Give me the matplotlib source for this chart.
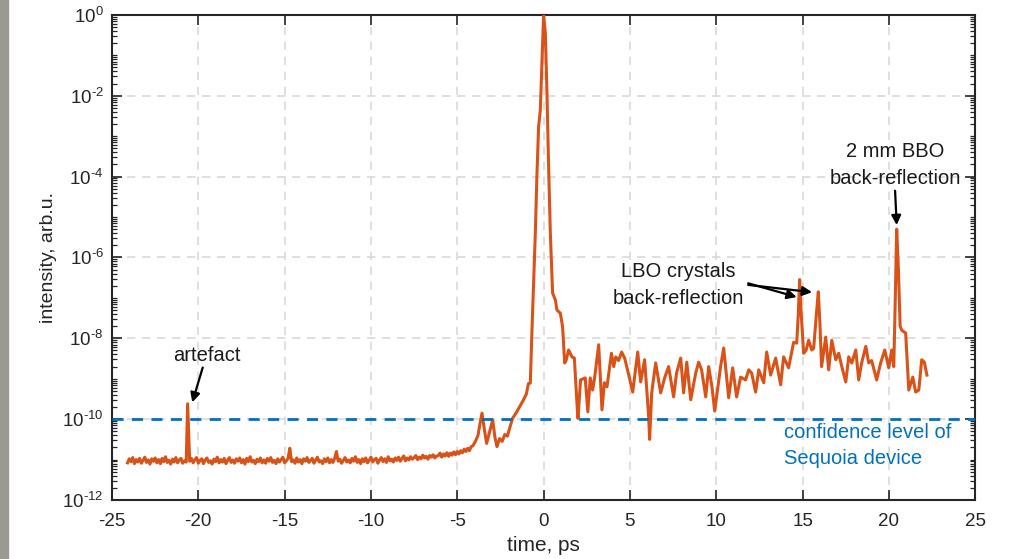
import numpy as np
import matplotlib
matplotlib.use("Agg")
import matplotlib.pyplot as plt
from matplotlib.ticker import LogLocator, NullFormatter, FixedLocator

plt.rcParams['font.family'] = ['Liberation Sans', 'DejaVu Sans']
plt.rcParams['axes.unicode_minus'] = False
plt.rcParams['mathtext.fontset'] = 'custom'
plt.rcParams['mathtext.rm'] = 'Liberation Sans'
plt.rcParams['mathtext.it'] = 'Liberation Sans:italic'
plt.rcParams['mathtext.bf'] = 'Liberation Sans:bold'

# ---------------- data (time in ps, log10 of intensity) ----------------
t_floor = [-24.1, -24.0, -23.9, -23.8, -23.7, -23.6, -23.5, -23.4, -23.3, -23.2,
           -23.1, -23.0, -22.9, -22.8, -22.7, -22.6, -22.5, -22.4, -22.3, -22.2,
           -22.1, -22.0, -21.9, -21.8, -21.7, -21.6, -21.5, -21.4, -21.3, -21.2,
           -21.1, -21.0, -20.9, -20.8, -20.7]
lg_floor = [-11.08, -10.98, -11.05, -10.95, -11.10, -11.00, -11.06, -10.97, -11.09, -11.02,
            -10.94, -11.07, -11.01, -11.11, -10.98, -11.04, -10.96, -11.08, -11.00, -11.10,
            -10.97, -11.05, -10.93, -11.07, -11.02, -11.11, -10.99, -11.06, -10.95, -11.08,
            -11.01, -10.97, -11.09, -11.03, -11.06]

t_artefact = [-20.62]
lg_artefact = [-9.62]

t_floor2 = [-20.5, -20.4, -20.3, -20.2, -20.1, -20.0, -19.9, -19.8, -19.7, -19.6,
            -19.5, -19.4, -19.3, -19.2, -19.1, -19.0, -18.9, -18.8, -18.7, -18.6,
            -18.5, -18.4, -18.3, -18.2, -18.1, -18.0, -17.9, -17.8, -17.7, -17.6,
            -17.5, -17.4, -17.3, -17.2, -17.1, -17.0, -16.9, -16.8, -16.7, -16.6,
            -16.5, -16.4, -16.3, -16.2, -16.1, -16.0, -15.9, -15.8, -15.7, -15.6,
            -15.5, -15.4, -15.3, -15.2, -15.1, -15.0, -14.9, -14.8, -14.7, -14.6,
            -14.5, -14.4, -14.3, -14.2, -14.1, -14.0, -13.9, -13.8, -13.7, -13.6,
            -13.5, -13.4, -13.3, -13.2, -13.1, -13.0, -12.9, -12.8, -12.7, -12.6,
            -12.5, -12.4, -12.3, -12.2, -12.1, -12.0, -11.9, -11.8, -11.7, -11.6,
            -11.5, -11.4, -11.3, -11.2, -11.1, -11.0, -10.9, -10.8, -10.7, -10.6,
            -10.5, -10.4, -10.3, -10.2, -10.1, -10.0, -9.9, -9.8, -9.7, -9.6,
            -9.5, -9.4, -9.3, -9.2, -9.1, -9.0, -8.9, -8.8, -8.7, -8.6,
            -8.5, -8.4, -8.3, -8.2, -8.1, -8.0, -7.9, -7.8, -7.7, -7.6,
            -7.5, -7.4, -7.3, -7.2, -7.1, -7.0, -6.9, -6.8, -6.7, -6.6,
            -6.5, -6.4, -6.3, -6.2]
lg_floor2 = [-11.04, -10.97, -11.08, -11.00, -10.95, -11.09, -11.02, -10.98, -11.10, -11.01,
             -10.96, -11.07, -11.03, -11.11, -10.99, -11.05, -10.94, -11.08, -11.00, -11.06,
             -10.97, -11.10, -11.02, -10.95, -11.07, -11.01, -11.09, -10.98, -11.04, -10.96,
             -11.08, -11.00, -11.11, -10.97, -11.05, -10.93, -11.06, -11.02, -11.10, -10.99,
             -11.05, -10.96, -11.08, -11.01, -11.09, -10.97, -11.04, -10.95, -11.07, -11.02,
             -11.10, -10.98, -11.06, -11.00, -10.94, -11.08, -11.03, -10.97, -10.72, -11.05,
             -11.01, -11.09, -10.96, -11.06, -11.00, -11.10, -10.98, -11.04, -10.95, -11.07,
             -11.02, -10.97, -11.09, -11.01, -10.94, -11.06, -11.03, -11.10, -10.98, -11.05,
             -10.96, -11.08, -11.00, -11.07, -10.97, -10.80, -11.04, -10.99, -11.09, -11.02,
             -10.95, -11.06, -11.01, -11.08, -10.97, -11.04, -10.93, -11.07, -11.00, -11.10,
             -10.98, -11.05, -10.96, -11.08, -11.02, -10.94, -11.06, -11.00, -10.97, -11.09,
             -11.01, -10.95, -11.05, -10.98, -11.07, -10.93, -11.03, -10.99, -11.06, -10.96,
             -11.02, -10.94, -11.04, -10.97, -10.91, -11.03, -10.96, -11.01, -10.93, -10.99,
             -10.95, -10.90, -11.00, -10.94, -10.98, -10.89, -10.96, -10.92, -10.99, -10.90,
             -10.94, -10.88, -10.96, -10.91]

t_rise = [-6.1, -6.0, -5.9, -5.8, -5.7, -5.6, -5.5, -5.4, -5.3, -5.2,
          -5.1, -5.0, -4.9, -4.8, -4.7, -4.6, -4.5, -4.4, -4.3, -4.2,
          -4.1, -3.95, -3.8, -3.68, -3.57, -3.45, -3.3, -3.15, -2.95, -2.82,
          -2.7, -2.55, -2.4, -2.25, -2.1, -1.95, -1.8, -1.6, -1.4, -1.2,
          -1.0, -0.88]
lg_rise = [-10.90, -10.84, -10.94, -10.86, -10.91, -10.83, -10.92, -10.84, -10.89, -10.81,
           -10.88, -10.80, -10.86, -10.78, -10.83, -10.74, -10.80, -10.72, -10.78, -10.68,
           -10.66, -10.55, -10.40, -10.10, -9.85, -10.20, -10.60, -10.35, -10.02, -10.45,
           -10.68, -10.48, -10.55, -10.38, -10.42, -10.20, -9.98, -9.85, -9.70, -9.55,
           -9.38, -9.12]

t_main = [-0.77, -0.68, -0.58, -0.48, -0.39, -0.29, -0.19, -0.10, 0.0, 0.10,
          0.19, 0.29, 0.39, 0.52, 0.68, 0.77, 0.97, 1.10, 1.22, 1.30,
          1.45, 1.64, 1.78, 1.93, 1.99, 2.14, 2.41, 2.56, 2.70, 2.84,
          2.96, 3.19, 3.38, 3.52, 3.67, 3.93, 4.06, 4.18, 4.34, 4.52,
          4.70, 4.97, 5.16, 5.45, 5.62, 5.85, 6.08, 6.14, 6.26, 6.49,
          6.78, 7.01, 7.24, 7.53, 7.70, 7.94, 8.11, 8.29, 8.52, 8.81,
          8.98, 9.15, 9.39, 9.56, 9.75, 9.91, 10.25, 10.43, 10.72, 10.95,
          11.18, 11.41, 11.70, 11.88, 12.05, 12.28, 12.46, 12.75, 12.92, 13.15,
          13.44, 13.73, 13.90, 14.19, 14.48, 14.66, 14.75, 14.83, 14.92, 15.06,
          15.20, 15.35, 15.53, 15.64, 15.80, 15.91, 16.00, 16.10, 16.34, 16.51,
          16.69, 16.92, 17.09, 17.27, 17.50, 17.67, 17.85, 18.08, 18.25, 18.42,
          18.66, 18.83, 19.00, 19.29, 19.52, 19.76, 19.99, 20.16, 20.28, 20.36,
          20.45, 20.55, 20.65, 20.74, 20.97, 21.15, 21.38, 21.55, 21.73, 21.90,
          22.05, 22.20]
lg_main = [-9.11, -7.87, -6.60, -5.40, -4.00, -2.77, -2.35, -1.24, 0.0, -0.45,
           -1.86, -3.76, -5.40, -6.88, -7.05, -7.30, -7.38, -7.72, -8.61, -8.55,
           -8.29, -8.46, -8.49, -9.60, -9.98, -9.03, -8.98, -9.82, -8.98, -9.28,
           -8.96, -8.16, -9.77, -9.10, -9.20, -8.37, -8.70, -8.46, -8.55, -8.34,
           -8.50, -8.98, -9.33, -8.34, -9.08, -8.53, -9.90, -10.50, -9.35, -8.61,
           -9.35, -8.98, -8.70, -9.45, -8.86, -8.49, -9.35, -8.59, -9.52, -8.86,
           -8.59, -8.78, -9.45, -8.70, -9.20, -9.80, -8.70, -8.24, -9.47, -8.73,
           -9.45, -8.96, -9.03, -8.78, -8.86, -9.33, -8.78, -9.10, -8.34, -8.91,
           -8.49, -9.15, -8.46, -8.73, -8.10, -8.12, -7.40, -6.55, -7.40, -8.37,
           -8.30, -8.05, -8.29, -8.25, -7.40, -6.85, -7.60, -8.70, -7.97, -8.78,
           -8.05, -8.53, -8.37, -8.70, -9.08, -8.46, -8.61, -8.29, -9.03, -8.61,
           -8.20, -8.61, -8.55, -9.03, -8.61, -8.29, -8.73, -8.29, -8.70, -7.20,
           -5.30, -6.30, -7.70, -7.80, -7.87, -9.28, -8.96, -9.33, -9.28, -8.53,
           -8.59, -8.91]

confidence_level = 1e-10

x_ticks = [-25, -20, -15, -10, -5, 0, 5, 10, 15, 20, 25]
y_ticks = [1e-12, 1e-10, 1e-8, 1e-6, 1e-4, 1e-2, 1e0]
y_ticklabels = [r'$10^{\text{-12}}$', r'$10^{\text{-10}}$', r'$10^{\text{-8}}$', r'$10^{\text{-6}}$',
                r'$10^{\text{-4}}$', r'$10^{\text{-2}}$', r'$10^{0}$']

t_all = np.array(t_floor + t_artefact + t_floor2 + t_rise + t_main)
intensity = 10.0 ** np.array(lg_floor + lg_artefact + lg_floor2 + lg_rise + lg_main)

# ---------------- figure ----------------
fig = plt.figure(figsize=(10.18, 5.59), dpi=100)
ax = fig.add_axes([0.110, 0.1055, 0.848, 0.868])

# left dark strip (border of original image)
fig.patches.append(plt.Rectangle((0, 0), 0.008, 1, transform=fig.transFigure,
                                 color='#9a9a92', zorder=0))

ax.set_yscale('log')
ax.set_xlim(-25, 25)
ax.set_ylim(1e-12, 1e0)

ax.grid(True, which='major', color='#d9d9d9', linestyle=(0, (5, 4)), linewidth=1.2)
ax.set_axisbelow(True)

ax.plot(t_all, intensity, color='#D95319', linewidth=2.2, zorder=3)
ax.axhline(confidence_level, color='#0072BD', linestyle=(0, (4, 3)), linewidth=2.0, zorder=4)

ax.xaxis.set_major_locator(FixedLocator(x_ticks))
ax.set_yticks(y_ticks)
ax.set_yticklabels(y_ticklabels)
ax.yaxis.set_minor_locator(LogLocator(base=10, subs=np.arange(1, 10), numticks=100))
ax.yaxis.set_minor_formatter(NullFormatter())

ax.tick_params(which='both', direction='in', top=True, right=True, colors='#262626',
               labelsize=13.5)
ax.tick_params(which='major', length=7, width=1.2)
ax.tick_params(which='minor', length=3.5, width=0.9)
ax.tick_params(axis='x', which='major', pad=9)
ax.tick_params(axis='y', which='major', pad=6)
for s in ax.spines.values():
    s.set_color('#262626')
    s.set_linewidth(1.5)

ax.set_xlabel('time, ps', fontsize=15, color='#262626', labelpad=5)
ax.set_ylabel('intensity, arb.u.', fontsize=14, color='#262626', labelpad=4)

ann_kw = dict(fontsize=14.5, color='#1a1a1a', ha='center', va='center')
arrow_kw = dict(arrowstyle='-|>', color='black', lw=1.6, mutation_scale=14, shrinkA=0, shrinkB=0)

ax.annotate('artefact', xy=(-20.35, 2.6e-10), xytext=(-19.5, 10**-8.42),
            arrowprops=dict(**arrow_kw, relpos=(0.45, 0.0)), **ann_kw)

ax.text(7.8, 10**-6.68, 'LBO crystals\nback-reflection', linespacing=1.5, **ann_kw)
ax.annotate('', xy=(14.66, 10**-6.98), xytext=(11.85, 10**-6.64), arrowprops=arrow_kw)
ax.annotate('', xy=(15.55, 10**-6.86), xytext=(11.85, 10**-6.68), arrowprops=arrow_kw)

ax.annotate('2 mm BBO\nback-reflection', xy=(20.45, 10**-5.2), xytext=(20.35, 10**-3.72),
            linespacing=1.5, arrowprops=dict(**arrow_kw, relpos=(0.5, 0.0)), **ann_kw)

ax.text(13.9, 10**-10.66, 'confidence level of\nSequoia device', fontsize=14.5,
        color='#0072BD', ha='left', va='center', linespacing=1.45)

fig.savefig('out.png', dpi=100)
